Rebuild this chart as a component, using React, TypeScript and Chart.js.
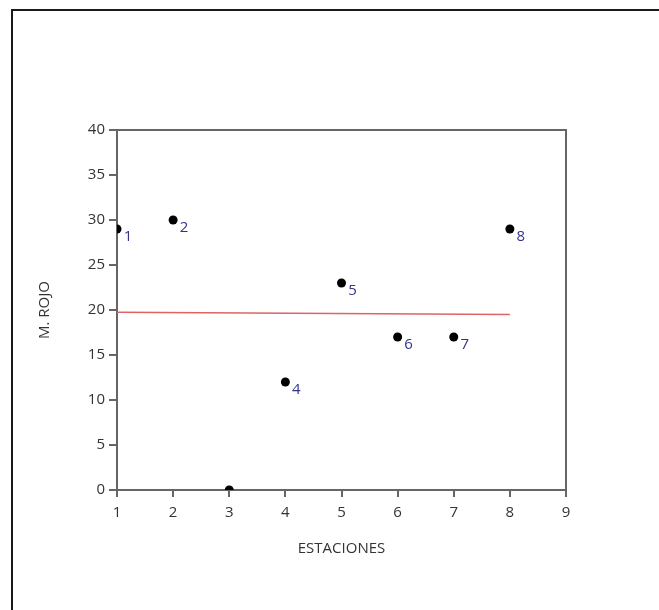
import React, { useEffect, useRef } from "react";
import { Chart, registerables } from "chart.js";

Chart.register(...registerables);

const stations = [1, 2, 3, 4, 5, 6, 7, 8];
const mRojo = [29, 30, 0, 12, 23, 17, 17, 29];
const pointLabels = ["1", "2", "3", "4", "5", "6", "7", "8"];
const fitX = [1, 8];
const fitY = [19.75, 19.5];

const FONT = "'Open Sans', 'Noto Sans', sans-serif";

const framePlugin = {
  id: "framePlugin",
  afterDraw(chart: any) {
    const { ctx, chartArea } = chart;
    ctx.save();
    ctx.strokeStyle = "#666";
    ctx.lineWidth = 2;
    ctx.beginPath();
    ctx.moveTo(chartArea.left, chartArea.top);
    ctx.lineTo(chartArea.right, chartArea.top);
    ctx.lineTo(chartArea.right, chartArea.bottom);
    ctx.stroke();
    const meta = chart.getDatasetMeta(1);
    ctx.fillStyle = "#33338c";
    ctx.font = "15px " + FONT;
    ctx.textAlign = "center";
    ctx.textBaseline = "middle";
    meta.data.forEach((el: any, i: number) => {
      if (i === 2) return;
      ctx.fillText(pointLabels[i], el.x + 11, el.y + 8);
    });
    ctx.restore();
  },
};

export default function App() {
  const ref = useRef<HTMLCanvasElement>(null);
  useEffect(() => {
    if (!ref.current) return;
    const chart = new Chart(ref.current, {
      type: "scatter",
      data: {
        datasets: [
          {
            type: "line",
            data: fitX.map((x, i) => ({ x, y: fitY[i] })),
            borderColor: "#dc6464",
            borderWidth: 1.5,
            pointRadius: 0,
            fill: false,
          } as any,
          {
            data: stations.map((x, i) => ({ x, y: mRojo[i] })),
            backgroundColor: "#000",
            borderColor: "#000",
            pointRadius: 4.5,
            borderWidth: 0,
            clip: 0,
          } as any,
        ],
      },
      plugins: [framePlugin],
      options: {
        animation: false,
        responsive: false,
        layout: { padding: { left: 0, top: 130, right: 93, bottom: 0 } },
        plugins: { legend: { display: false }, tooltip: { enabled: false } },
        scales: {
          x: {
            type: "linear",
            min: 1,
            max: 9,
            ticks: { stepSize: 1, color: "#333", font: { family: FONT, size: 15 }, padding: 7 },
            grid: { drawOnChartArea: false, drawTicks: true, tickLength: 7, color: "#666", lineWidth: 2 },
            border: { display: true, color: "#666", width: 2 },
            title: {
              display: true,
              text: "ESTACIONES",
              color: "#333",
              font: { family: FONT, size: 15 },
              padding: { top: 0, bottom: 52 },
            },
            afterFit: (s: any) => {
              s.height = 120;
            },
          },
          y: {
            min: 0,
            max: 40,
            ticks: { stepSize: 5, color: "#333", font: { family: FONT, size: 15 }, padding: 4 },
            grid: { drawOnChartArea: false, drawTicks: true, tickLength: 8, color: "#666", lineWidth: 2 },
            border: { display: true, color: "#666", width: 2 },
            title: {
              display: true,
              text: "M. ROJO",
              color: "#333",
              font: { family: FONT, size: 15 },
              padding: { top: 36, bottom: 0 },
            },
            afterFit: (s: any) => {
              s.width = 117;
            },
          },
        },
      },
    });
    return () => chart.destroy();
  }, []);
  return (
    <div style={{ position: "absolute", left: 0, top: 0, width: 659, height: 610, background: "#fff" }}>
      <div
        style={{
          position: "absolute",
          left: 11,
          top: 9,
          width: 648,
          height: 601,
          borderLeft: "2px solid #1a1a1a",
          borderTop: "2px solid #1a1a1a",
          boxSizing: "border-box",
        }}
      />
      <canvas ref={ref} width={659} height={610} style={{ position: "absolute", left: 0, top: 0 }} />
    </div>
  );
}
